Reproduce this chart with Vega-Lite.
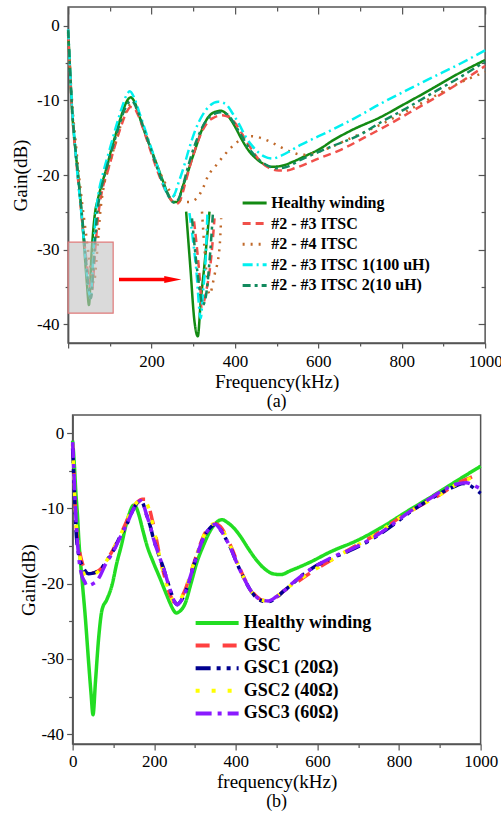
{
  "$schema": "https://vega.github.io/schema/vega-lite/v6.json",
  "background": "white",
  "padding": {"left": 10, "top": 5, "right": 0, "bottom": 5},
  "center": true,
  "spacing": 2,
  "resolve": {"scale": {"color": "independent", "strokeDash": "independent", "x": "independent", "y": "independent"}, "legend": {"color": "independent", "strokeDash": "independent"}},
  "config": {
    "view": {"stroke": "#555", "strokeWidth": 1.5},
    "axis": {"labelFont": "Liberation Serif", "titleFont": "Liberation Serif", "labelColor": "black", "titleColor": "black", "titleFontWeight": "normal", "labelFontSize": 17, "titleFontSize": 19, "domainColor": "#555", "tickColor": "#555", "domainWidth": 1.5, "tickWidth": 1.2, "grid": false},
    "legend": {"labelFont": "Liberation Serif"},
    "title": {"font": "Liberation Serif", "fontSize": 18, "fontWeight": "normal", "color": "black"}
  },
  "datasets": {
    "a": [
      {"s":"Healthy winding","p":"m","f":0,"g":-0.8},{"s":"Healthy winding","p":"m","f":3,"g":-4},{"s":"Healthy winding","p":"m","f":6,"g":-7.5},{"s":"Healthy winding","p":"m","f":9,"g":-11},{"s":"Healthy winding","p":"m","f":13,"g":-14},{"s":"Healthy winding","p":"m","f":18,"g":-17},{"s":"Healthy winding","p":"m","f":24,"g":-20},{"s":"Healthy winding","p":"m","f":32,"g":-24.9},{"s":"Healthy winding","p":"m","f":39,"g":-30},{"s":"Healthy winding","p":"m","f":45,"g":-34.5},{"s":"Healthy winding","p":"m","f":50,"g":-37.4},{"s":"Healthy winding","p":"m","f":56,"g":-30.7},{"s":"Healthy winding","p":"m","f":64,"g":-25.3},{"s":"Healthy winding","p":"m","f":72,"g":-23.1},{"s":"Healthy winding","p":"m","f":82,"g":-21},{"s":"Healthy winding","p":"m","f":92,"g":-19.1},{"s":"Healthy winding","p":"m","f":104,"g":-16.5},{"s":"Healthy winding","p":"m","f":116,"g":-14.2},{"s":"Healthy winding","p":"m","f":128,"g":-12},{"s":"Healthy winding","p":"m","f":140,"g":-10.2},{"s":"Healthy winding","p":"m","f":150,"g":-9.6},{"s":"Healthy winding","p":"m","f":160,"g":-10.3},{"s":"Healthy winding","p":"m","f":170,"g":-12},{"s":"Healthy winding","p":"m","f":180,"g":-13.7},{"s":"Healthy winding","p":"m","f":192,"g":-15.5},{"s":"Healthy winding","p":"m","f":204,"g":-17.3},{"s":"Healthy winding","p":"m","f":216,"g":-19.1},{"s":"Healthy winding","p":"m","f":228,"g":-20.9},{"s":"Healthy winding","p":"m","f":240,"g":-22.6},{"s":"Healthy winding","p":"m","f":252,"g":-23.6},{"s":"Healthy winding","p":"m","f":262,"g":-23.6},{"s":"Healthy winding","p":"m","f":275,"g":-21.5},{"s":"Healthy winding","p":"m","f":285,"g":-20},{"s":"Healthy winding","p":"m","f":295,"g":-18.2},{"s":"Healthy winding","p":"m","f":307,"g":-16.2},{"s":"Healthy winding","p":"m","f":319,"g":-14.2},{"s":"Healthy winding","p":"m","f":333,"g":-12.5},{"s":"Healthy winding","p":"m","f":350,"g":-11.6},{"s":"Healthy winding","p":"m","f":367,"g":-11.4},{"s":"Healthy winding","p":"m","f":385,"g":-12.2},{"s":"Healthy winding","p":"m","f":400,"g":-13.5},{"s":"Healthy winding","p":"m","f":415,"g":-15.1},{"s":"Healthy winding","p":"m","f":430,"g":-16.5},{"s":"Healthy winding","p":"m","f":447,"g":-17.6},{"s":"Healthy winding","p":"m","f":465,"g":-18.4},{"s":"Healthy winding","p":"m","f":487,"g":-18.9},{"s":"Healthy winding","p":"m","f":510,"g":-18.8},{"s":"Healthy winding","p":"m","f":540,"g":-18.2},{"s":"Healthy winding","p":"m","f":567,"g":-17.5},{"s":"Healthy winding","p":"m","f":607,"g":-16.4},{"s":"Healthy winding","p":"m","f":631,"g":-15.5},{"s":"Healthy winding","p":"m","f":680,"g":-14},{"s":"Healthy winding","p":"m","f":751,"g":-12.2},{"s":"Healthy winding","p":"m","f":800,"g":-10.7},{"s":"Healthy winding","p":"m","f":871,"g":-8.5},{"s":"Healthy winding","p":"m","f":930,"g":-6.6},{"s":"Healthy winding","p":"m","f":1000,"g":-4.6},

      {"s":"#2 - #3 ITSC","p":"m","f":0,"g":-1},{"s":"#2 - #3 ITSC","p":"m","f":3,"g":-4.5},{"s":"#2 - #3 ITSC","p":"m","f":6,"g":-8},{"s":"#2 - #3 ITSC","p":"m","f":10,"g":-12},{"s":"#2 - #3 ITSC","p":"m","f":15,"g":-15.5},{"s":"#2 - #3 ITSC","p":"m","f":21,"g":-19},{"s":"#2 - #3 ITSC","p":"m","f":28,"g":-23},{"s":"#2 - #3 ITSC","p":"m","f":36,"g":-27.5},{"s":"#2 - #3 ITSC","p":"m","f":44,"g":-31.5},{"s":"#2 - #3 ITSC","p":"m","f":51,"g":-34.5},{"s":"#2 - #3 ITSC","p":"m","f":57,"g":-35.5},{"s":"#2 - #3 ITSC","p":"m","f":62,"g":-32.5},{"s":"#2 - #3 ITSC","p":"m","f":67,"g":-28.5},{"s":"#2 - #3 ITSC","p":"m","f":72,"g":-25.5},{"s":"#2 - #3 ITSC","p":"m","f":80,"g":-22.5},{"s":"#2 - #3 ITSC","p":"m","f":95,"g":-19.5},{"s":"#2 - #3 ITSC","p":"m","f":110,"g":-16.5},{"s":"#2 - #3 ITSC","p":"m","f":125,"g":-13.8},{"s":"#2 - #3 ITSC","p":"m","f":140,"g":-11.6},{"s":"#2 - #3 ITSC","p":"m","f":150,"g":-10.9},{"s":"#2 - #3 ITSC","p":"m","f":158,"g":-11},{"s":"#2 - #3 ITSC","p":"m","f":168,"g":-12},{"s":"#2 - #3 ITSC","p":"m","f":180,"g":-13.8},{"s":"#2 - #3 ITSC","p":"m","f":195,"g":-16.3},{"s":"#2 - #3 ITSC","p":"m","f":210,"g":-18.8},{"s":"#2 - #3 ITSC","p":"m","f":225,"g":-21},{"s":"#2 - #3 ITSC","p":"m","f":240,"g":-22.8},{"s":"#2 - #3 ITSC","p":"m","f":252,"g":-23.6},{"s":"#2 - #3 ITSC","p":"m","f":262,"g":-23.8},{"s":"#2 - #3 ITSC","p":"m","f":270,"g":-23.2},{"s":"#2 - #3 ITSC","p":"m","f":280,"g":-21.3},{"s":"#2 - #3 ITSC","p":"m","f":292,"g":-18.8},{"s":"#2 - #3 ITSC","p":"m","f":305,"g":-16.5},{"s":"#2 - #3 ITSC","p":"m","f":320,"g":-14.3},{"s":"#2 - #3 ITSC","p":"m","f":335,"g":-12.9},{"s":"#2 - #3 ITSC","p":"m","f":350,"g":-12.3},{"s":"#2 - #3 ITSC","p":"m","f":368,"g":-12},{"s":"#2 - #3 ITSC","p":"m","f":385,"g":-12.2},{"s":"#2 - #3 ITSC","p":"m","f":400,"g":-13},{"s":"#2 - #3 ITSC","p":"m","f":415,"g":-14.3},{"s":"#2 - #3 ITSC","p":"m","f":430,"g":-15.7},{"s":"#2 - #3 ITSC","p":"m","f":445,"g":-17},{"s":"#2 - #3 ITSC","p":"m","f":460,"g":-18.1},{"s":"#2 - #3 ITSC","p":"m","f":480,"g":-19},{"s":"#2 - #3 ITSC","p":"m","f":505,"g":-19.4},{"s":"#2 - #3 ITSC","p":"m","f":525,"g":-19.4},{"s":"#2 - #3 ITSC","p":"m","f":543,"g":-19.1},{"s":"#2 - #3 ITSC","p":"m","f":600,"g":-17.8},{"s":"#2 - #3 ITSC","p":"m","f":655,"g":-16.6},{"s":"#2 - #3 ITSC","p":"m","f":710,"g":-15},{"s":"#2 - #3 ITSC","p":"m","f":767,"g":-13.3},{"s":"#2 - #3 ITSC","p":"m","f":820,"g":-11.6},{"s":"#2 - #3 ITSC","p":"m","f":879,"g":-9.7},{"s":"#2 - #3 ITSC","p":"m","f":940,"g":-7.6},{"s":"#2 - #3 ITSC","p":"m","f":1000,"g":-5.4},

      {"s":"#2 - #4 ITSC","p":"m","f":0,"g":-1.2},{"s":"#2 - #4 ITSC","p":"m","f":3,"g":-4},{"s":"#2 - #4 ITSC","p":"m","f":7,"g":-8},{"s":"#2 - #4 ITSC","p":"m","f":12,"g":-12},{"s":"#2 - #4 ITSC","p":"m","f":18,"g":-15.5},{"s":"#2 - #4 ITSC","p":"m","f":25,"g":-19.5},{"s":"#2 - #4 ITSC","p":"m","f":33,"g":-23.5},{"s":"#2 - #4 ITSC","p":"m","f":42,"g":-27.5},{"s":"#2 - #4 ITSC","p":"m","f":50,"g":-31},{"s":"#2 - #4 ITSC","p":"m","f":57,"g":-33.5},{"s":"#2 - #4 ITSC","p":"m","f":62,"g":-34.5},{"s":"#2 - #4 ITSC","p":"m","f":67,"g":-32},{"s":"#2 - #4 ITSC","p":"m","f":72,"g":-28.5},{"s":"#2 - #4 ITSC","p":"m","f":77,"g":-25},{"s":"#2 - #4 ITSC","p":"m","f":84,"g":-22},{"s":"#2 - #4 ITSC","p":"m","f":97,"g":-19},{"s":"#2 - #4 ITSC","p":"m","f":112,"g":-16},{"s":"#2 - #4 ITSC","p":"m","f":127,"g":-13.2},{"s":"#2 - #4 ITSC","p":"m","f":140,"g":-11.3},{"s":"#2 - #4 ITSC","p":"m","f":150,"g":-10.6},{"s":"#2 - #4 ITSC","p":"m","f":160,"g":-10.8},{"s":"#2 - #4 ITSC","p":"m","f":172,"g":-12.2},{"s":"#2 - #4 ITSC","p":"m","f":185,"g":-14.3},{"s":"#2 - #4 ITSC","p":"m","f":200,"g":-16.7},{"s":"#2 - #4 ITSC","p":"m","f":215,"g":-19},{"s":"#2 - #4 ITSC","p":"m","f":230,"g":-20.8},{"s":"#2 - #4 ITSC","p":"m","f":245,"g":-22.2},{"s":"#2 - #4 ITSC","p":"m","f":260,"g":-23},{"s":"#2 - #4 ITSC","p":"m","f":275,"g":-23.6},{"s":"#2 - #4 ITSC","p":"m","f":290,"g":-23.6},{"s":"#2 - #4 ITSC","p":"m","f":307,"g":-23.2},{"s":"#2 - #4 ITSC","p":"m","f":323,"g":-21.8},{"s":"#2 - #4 ITSC","p":"m","f":335,"g":-20.2},{"s":"#2 - #4 ITSC","p":"m","f":355,"g":-18.7},{"s":"#2 - #4 ITSC","p":"m","f":375,"g":-17.3},{"s":"#2 - #4 ITSC","p":"m","f":395,"g":-16.1},{"s":"#2 - #4 ITSC","p":"m","f":415,"g":-15.2},{"s":"#2 - #4 ITSC","p":"m","f":440,"g":-14.8},{"s":"#2 - #4 ITSC","p":"m","f":460,"g":-15},{"s":"#2 - #4 ITSC","p":"m","f":479,"g":-15.4},{"s":"#2 - #4 ITSC","p":"m","f":511,"g":-16.3},{"s":"#2 - #4 ITSC","p":"m","f":539,"g":-17},{"s":"#2 - #4 ITSC","p":"m","f":560,"g":-17.3},{"s":"#2 - #4 ITSC","p":"m","f":580,"g":-17.2},{"s":"#2 - #4 ITSC","p":"m","f":620,"g":-16.5},{"s":"#2 - #4 ITSC","p":"m","f":680,"g":-15},{"s":"#2 - #4 ITSC","p":"m","f":740,"g":-13.5},{"s":"#2 - #4 ITSC","p":"m","f":800,"g":-11.8},{"s":"#2 - #4 ITSC","p":"m","f":870,"g":-9.7},{"s":"#2 - #4 ITSC","p":"m","f":930,"g":-7.9},{"s":"#2 - #4 ITSC","p":"m","f":1000,"g":-6.2},

      {"s":"#2 - #3 ITSC 1(100 uH)","p":"m","f":0,"g":-0.5},{"s":"#2 - #3 ITSC 1(100 uH)","p":"m","f":3,"g":-4},{"s":"#2 - #3 ITSC 1(100 uH)","p":"m","f":6,"g":-7.5},{"s":"#2 - #3 ITSC 1(100 uH)","p":"m","f":10,"g":-11.5},{"s":"#2 - #3 ITSC 1(100 uH)","p":"m","f":15,"g":-15},{"s":"#2 - #3 ITSC 1(100 uH)","p":"m","f":20,"g":-18.5},{"s":"#2 - #3 ITSC 1(100 uH)","p":"m","f":27,"g":-22.5},{"s":"#2 - #3 ITSC 1(100 uH)","p":"m","f":35,"g":-27},{"s":"#2 - #3 ITSC 1(100 uH)","p":"m","f":42,"g":-31.5},{"s":"#2 - #3 ITSC 1(100 uH)","p":"m","f":48,"g":-35},{"s":"#2 - #3 ITSC 1(100 uH)","p":"m","f":54,"g":-36.5},{"s":"#2 - #3 ITSC 1(100 uH)","p":"m","f":58,"g":-33.5},{"s":"#2 - #3 ITSC 1(100 uH)","p":"m","f":62,"g":-29},{"s":"#2 - #3 ITSC 1(100 uH)","p":"m","f":66,"g":-25.5},{"s":"#2 - #3 ITSC 1(100 uH)","p":"m","f":72,"g":-22.8},{"s":"#2 - #3 ITSC 1(100 uH)","p":"m","f":85,"g":-19.5},{"s":"#2 - #3 ITSC 1(100 uH)","p":"m","f":100,"g":-16.5},{"s":"#2 - #3 ITSC 1(100 uH)","p":"m","f":115,"g":-13.5},{"s":"#2 - #3 ITSC 1(100 uH)","p":"m","f":130,"g":-10.8},{"s":"#2 - #3 ITSC 1(100 uH)","p":"m","f":140,"g":-9.3},{"s":"#2 - #3 ITSC 1(100 uH)","p":"m","f":148,"g":-8.8},{"s":"#2 - #3 ITSC 1(100 uH)","p":"m","f":158,"g":-9.6},{"s":"#2 - #3 ITSC 1(100 uH)","p":"m","f":170,"g":-11.5},{"s":"#2 - #3 ITSC 1(100 uH)","p":"m","f":185,"g":-14},{"s":"#2 - #3 ITSC 1(100 uH)","p":"m","f":200,"g":-16.5},{"s":"#2 - #3 ITSC 1(100 uH)","p":"m","f":215,"g":-19},{"s":"#2 - #3 ITSC 1(100 uH)","p":"m","f":228,"g":-21.2},{"s":"#2 - #3 ITSC 1(100 uH)","p":"m","f":238,"g":-22.6},{"s":"#2 - #3 ITSC 1(100 uH)","p":"m","f":246,"g":-23.1},{"s":"#2 - #3 ITSC 1(100 uH)","p":"m","f":255,"g":-22.6},{"s":"#2 - #3 ITSC 1(100 uH)","p":"m","f":265,"g":-21},{"s":"#2 - #3 ITSC 1(100 uH)","p":"m","f":278,"g":-18.8},{"s":"#2 - #3 ITSC 1(100 uH)","p":"m","f":290,"g":-16.5},{"s":"#2 - #3 ITSC 1(100 uH)","p":"m","f":305,"g":-14},{"s":"#2 - #3 ITSC 1(100 uH)","p":"m","f":320,"g":-12.2},{"s":"#2 - #3 ITSC 1(100 uH)","p":"m","f":340,"g":-10.7},{"s":"#2 - #3 ITSC 1(100 uH)","p":"m","f":360,"g":-10.2},{"s":"#2 - #3 ITSC 1(100 uH)","p":"m","f":378,"g":-10.5},{"s":"#2 - #3 ITSC 1(100 uH)","p":"m","f":395,"g":-11.8},{"s":"#2 - #3 ITSC 1(100 uH)","p":"m","f":410,"g":-13.2},{"s":"#2 - #3 ITSC 1(100 uH)","p":"m","f":425,"g":-14.8},{"s":"#2 - #3 ITSC 1(100 uH)","p":"m","f":440,"g":-16},{"s":"#2 - #3 ITSC 1(100 uH)","p":"m","f":455,"g":-16.9},{"s":"#2 - #3 ITSC 1(100 uH)","p":"m","f":470,"g":-17.5},{"s":"#2 - #3 ITSC 1(100 uH)","p":"m","f":490,"g":-17.8},{"s":"#2 - #3 ITSC 1(100 uH)","p":"m","f":511,"g":-17.4},{"s":"#2 - #3 ITSC 1(100 uH)","p":"m","f":560,"g":-15.9},{"s":"#2 - #3 ITSC 1(100 uH)","p":"m","f":631,"g":-14},{"s":"#2 - #3 ITSC 1(100 uH)","p":"m","f":700,"g":-12},{"s":"#2 - #3 ITSC 1(100 uH)","p":"m","f":751,"g":-10.4},{"s":"#2 - #3 ITSC 1(100 uH)","p":"m","f":810,"g":-8.7},{"s":"#2 - #3 ITSC 1(100 uH)","p":"m","f":871,"g":-7},{"s":"#2 - #3 ITSC 1(100 uH)","p":"m","f":940,"g":-5.1},{"s":"#2 - #3 ITSC 1(100 uH)","p":"m","f":1000,"g":-3.3},

      {"s":"#2 - #3 ITSC 2(10 uH)","p":"m","f":0,"g":-0.6},{"s":"#2 - #3 ITSC 2(10 uH)","p":"m","f":3,"g":-4},{"s":"#2 - #3 ITSC 2(10 uH)","p":"m","f":6,"g":-7.5},{"s":"#2 - #3 ITSC 2(10 uH)","p":"m","f":10,"g":-11.5},{"s":"#2 - #3 ITSC 2(10 uH)","p":"m","f":15,"g":-15},{"s":"#2 - #3 ITSC 2(10 uH)","p":"m","f":21,"g":-18.5},{"s":"#2 - #3 ITSC 2(10 uH)","p":"m","f":28,"g":-22.5},{"s":"#2 - #3 ITSC 2(10 uH)","p":"m","f":36,"g":-27},{"s":"#2 - #3 ITSC 2(10 uH)","p":"m","f":43,"g":-31.5},{"s":"#2 - #3 ITSC 2(10 uH)","p":"m","f":49,"g":-35},{"s":"#2 - #3 ITSC 2(10 uH)","p":"m","f":55,"g":-36.5},{"s":"#2 - #3 ITSC 2(10 uH)","p":"m","f":60,"g":-33},{"s":"#2 - #3 ITSC 2(10 uH)","p":"m","f":65,"g":-28.5},{"s":"#2 - #3 ITSC 2(10 uH)","p":"m","f":70,"g":-25},{"s":"#2 - #3 ITSC 2(10 uH)","p":"m","f":77,"g":-22.5},{"s":"#2 - #3 ITSC 2(10 uH)","p":"m","f":90,"g":-19.5},{"s":"#2 - #3 ITSC 2(10 uH)","p":"m","f":105,"g":-16.6},{"s":"#2 - #3 ITSC 2(10 uH)","p":"m","f":120,"g":-13.8},{"s":"#2 - #3 ITSC 2(10 uH)","p":"m","f":135,"g":-11.3},{"s":"#2 - #3 ITSC 2(10 uH)","p":"m","f":145,"g":-10.3},{"s":"#2 - #3 ITSC 2(10 uH)","p":"m","f":153,"g":-10.1},{"s":"#2 - #3 ITSC 2(10 uH)","p":"m","f":162,"g":-10.8},{"s":"#2 - #3 ITSC 2(10 uH)","p":"m","f":173,"g":-12.4},{"s":"#2 - #3 ITSC 2(10 uH)","p":"m","f":187,"g":-14.7},{"s":"#2 - #3 ITSC 2(10 uH)","p":"m","f":200,"g":-16.8},{"s":"#2 - #3 ITSC 2(10 uH)","p":"m","f":215,"g":-19.3},{"s":"#2 - #3 ITSC 2(10 uH)","p":"m","f":230,"g":-21.5},{"s":"#2 - #3 ITSC 2(10 uH)","p":"m","f":243,"g":-23},{"s":"#2 - #3 ITSC 2(10 uH)","p":"m","f":255,"g":-23.7},{"s":"#2 - #3 ITSC 2(10 uH)","p":"m","f":265,"g":-23.2},{"s":"#2 - #3 ITSC 2(10 uH)","p":"m","f":275,"g":-21.5},{"s":"#2 - #3 ITSC 2(10 uH)","p":"m","f":287,"g":-19},{"s":"#2 - #3 ITSC 2(10 uH)","p":"m","f":300,"g":-16.6},{"s":"#2 - #3 ITSC 2(10 uH)","p":"m","f":315,"g":-14.4},{"s":"#2 - #3 ITSC 2(10 uH)","p":"m","f":330,"g":-12.8},{"s":"#2 - #3 ITSC 2(10 uH)","p":"m","f":348,"g":-11.9},{"s":"#2 - #3 ITSC 2(10 uH)","p":"m","f":365,"g":-11.6},{"s":"#2 - #3 ITSC 2(10 uH)","p":"m","f":380,"g":-11.8},{"s":"#2 - #3 ITSC 2(10 uH)","p":"m","f":395,"g":-12.8},{"s":"#2 - #3 ITSC 2(10 uH)","p":"m","f":410,"g":-14.2},{"s":"#2 - #3 ITSC 2(10 uH)","p":"m","f":425,"g":-15.6},{"s":"#2 - #3 ITSC 2(10 uH)","p":"m","f":440,"g":-16.9},{"s":"#2 - #3 ITSC 2(10 uH)","p":"m","f":457,"g":-17.9},{"s":"#2 - #3 ITSC 2(10 uH)","p":"m","f":477,"g":-18.7},{"s":"#2 - #3 ITSC 2(10 uH)","p":"m","f":500,"g":-19.1},{"s":"#2 - #3 ITSC 2(10 uH)","p":"m","f":519,"g":-19},{"s":"#2 - #3 ITSC 2(10 uH)","p":"m","f":560,"g":-17.9},{"s":"#2 - #3 ITSC 2(10 uH)","p":"m","f":631,"g":-16.2},{"s":"#2 - #3 ITSC 2(10 uH)","p":"m","f":700,"g":-14.6},{"s":"#2 - #3 ITSC 2(10 uH)","p":"m","f":751,"g":-12.9},{"s":"#2 - #3 ITSC 2(10 uH)","p":"m","f":810,"g":-11.1},{"s":"#2 - #3 ITSC 2(10 uH)","p":"m","f":871,"g":-9.1},{"s":"#2 - #3 ITSC 2(10 uH)","p":"m","f":940,"g":-6.9},{"s":"#2 - #3 ITSC 2(10 uH)","p":"m","f":1000,"g":-4.8},

      {"s":"Healthy winding","p":"i","f":283,"g":-24.9},{"s":"Healthy winding","p":"i","f":293,"g":-32.3},{"s":"Healthy winding","p":"i","f":303,"g":-39.6},{"s":"Healthy winding","p":"i","f":311,"g":-41.6},{"s":"Healthy winding","p":"i","f":318,"g":-36.9},{"s":"Healthy winding","p":"i","f":327,"g":-32},{"s":"Healthy winding","p":"i","f":339,"g":-24.9},
      {"s":"#2 - #3 ITSC","p":"i","f":302,"g":-26.2},{"s":"#2 - #3 ITSC","p":"i","f":315,"g":-33.4},{"s":"#2 - #3 ITSC","p":"i","f":321,"g":-37.6},{"s":"#2 - #3 ITSC","p":"i","f":331,"g":-35.6},{"s":"#2 - #3 ITSC","p":"i","f":343,"g":-31.1},{"s":"#2 - #3 ITSC","p":"i","f":351,"g":-25.8},
      {"s":"#2 - #4 ITSC","p":"i","f":321,"g":-24.9},{"s":"#2 - #4 ITSC","p":"i","f":327,"g":-29.8},{"s":"#2 - #4 ITSC","p":"i","f":339,"g":-36},{"s":"#2 - #4 ITSC","p":"i","f":351,"g":-33.4},{"s":"#2 - #4 ITSC","p":"i","f":363,"g":-29.8},{"s":"#2 - #4 ITSC","p":"i","f":367,"g":-25.8},
      {"s":"#2 - #3 ITSC 1(100 uH)","p":"i","f":291,"g":-25.1},{"s":"#2 - #3 ITSC 1(100 uH)","p":"i","f":307,"g":-32.5},{"s":"#2 - #3 ITSC 1(100 uH)","p":"i","f":318,"g":-39.2},{"s":"#2 - #3 ITSC 1(100 uH)","p":"i","f":323,"g":-36},{"s":"#2 - #3 ITSC 1(100 uH)","p":"i","f":331,"g":-29.8},{"s":"#2 - #3 ITSC 1(100 uH)","p":"i","f":334,"g":-25.1},
      {"s":"#2 - #3 ITSC 2(10 uH)","p":"i","f":297,"g":-25.8},{"s":"#2 - #3 ITSC 2(10 uH)","p":"i","f":311,"g":-33.4},{"s":"#2 - #3 ITSC 2(10 uH)","p":"i","f":323,"g":-37.4},{"s":"#2 - #3 ITSC 2(10 uH)","p":"i","f":331,"g":-36},{"s":"#2 - #3 ITSC 2(10 uH)","p":"i","f":339,"g":-31.6},{"s":"#2 - #3 ITSC 2(10 uH)","p":"i","f":347,"g":-25.3}
    ],
    "b": [
      {"s":"Healthy winding","f":0,"g":-1},{"s":"Healthy winding","f":4,"g":-4},{"s":"Healthy winding","f":8,"g":-8},{"s":"Healthy winding","f":12,"g":-11},{"s":"Healthy winding","f":15,"g":-14},{"s":"Healthy winding","f":23,"g":-19.4},{"s":"Healthy winding","f":31,"g":-24.4},{"s":"Healthy winding","f":39,"g":-30.3},{"s":"Healthy winding","f":45,"g":-34.5},{"s":"Healthy winding","f":50,"g":-37.4},{"s":"Healthy winding","f":56,"g":-33},{"s":"Healthy winding","f":64,"g":-27.1},{"s":"Healthy winding","f":72,"g":-23.5},{"s":"Healthy winding","f":84,"g":-22.1},{"s":"Healthy winding","f":96,"g":-20.3},{"s":"Healthy winding","f":109,"g":-17.1},{"s":"Healthy winding","f":120,"g":-14.8},{"s":"Healthy winding","f":129,"g":-12.6},{"s":"Healthy winding","f":139,"g":-10.7},{"s":"Healthy winding","f":149,"g":-9.6},{"s":"Healthy winding","f":155,"g":-9.8},{"s":"Healthy winding","f":162,"g":-10.8},{"s":"Healthy winding","f":172,"g":-12.9},{"s":"Healthy winding","f":182,"g":-14.9},{"s":"Healthy winding","f":198,"g":-17.2},{"s":"Healthy winding","f":215,"g":-19.4},{"s":"Healthy winding","f":229,"g":-21.3},{"s":"Healthy winding","f":239,"g":-22.6},{"s":"Healthy winding","f":247,"g":-23.5},{"s":"Healthy winding","f":254,"g":-23.9},{"s":"Healthy winding","f":262,"g":-23.7},{"s":"Healthy winding","f":276,"g":-22.6},{"s":"Healthy winding","f":290,"g":-20},{"s":"Healthy winding","f":305,"g":-17.1},{"s":"Healthy winding","f":320,"g":-15},{"s":"Healthy winding","f":337,"g":-13},{"s":"Healthy winding","f":350,"g":-12},{"s":"Healthy winding","f":366,"g":-11.5},{"s":"Healthy winding","f":380,"g":-11.9},{"s":"Healthy winding","f":395,"g":-12.6},{"s":"Healthy winding","f":411,"g":-13.7},{"s":"Healthy winding","f":430,"g":-15.3},{"s":"Healthy winding","f":451,"g":-16.9},{"s":"Healthy winding","f":470,"g":-18},{"s":"Healthy winding","f":492,"g":-18.7},{"s":"Healthy winding","f":510,"g":-18.8},{"s":"Healthy winding","f":533,"g":-18.3},{"s":"Healthy winding","f":580,"g":-17.2},{"s":"Healthy winding","f":631,"g":-15.8},{"s":"Healthy winding","f":700,"g":-14.2},{"s":"Healthy winding","f":761,"g":-12.4},{"s":"Healthy winding","f":820,"g":-10.4},{"s":"Healthy winding","f":884,"g":-8.3},{"s":"Healthy winding","f":940,"g":-6.4},{"s":"Healthy winding","f":1000,"g":-4.4},

      {"s":"GSC","f":0,"g":-1.5},{"s":"GSC","f":3,"g":-5},{"s":"GSC","f":6,"g":-9},{"s":"GSC","f":9,"g":-12.5},{"s":"GSC","f":13,"g":-14.5},{"s":"GSC","f":18,"g":-16},{"s":"GSC","f":25,"g":-17.5},{"s":"GSC","f":32,"g":-18.3},{"s":"GSC","f":40,"g":-18.6},{"s":"GSC","f":50,"g":-18.6},{"s":"GSC","f":60,"g":-18.4},{"s":"GSC","f":70,"g":-18},{"s":"GSC","f":85,"g":-16.8},{"s":"GSC","f":100,"g":-15.4},{"s":"GSC","f":115,"g":-13.8},{"s":"GSC","f":130,"g":-12},{"s":"GSC","f":145,"g":-10.2},{"s":"GSC","f":160,"g":-9.1},{"s":"GSC","f":170,"g":-8.8},{"s":"GSC","f":178,"g":-8.8},{"s":"GSC","f":186,"g":-9.6},{"s":"GSC","f":195,"g":-11.5},{"s":"GSC","f":205,"g":-14},{"s":"GSC","f":215,"g":-16.8},{"s":"GSC","f":225,"g":-19},{"s":"GSC","f":235,"g":-20.9},{"s":"GSC","f":245,"g":-22.2},{"s":"GSC","f":255,"g":-22.7},{"s":"GSC","f":265,"g":-22},{"s":"GSC","f":276,"g":-20.8},{"s":"GSC","f":290,"g":-18.5},{"s":"GSC","f":305,"g":-16},{"s":"GSC","f":320,"g":-13.8},{"s":"GSC","f":335,"g":-12.4},{"s":"GSC","f":349,"g":-12},{"s":"GSC","f":362,"g":-12.4},{"s":"GSC","f":375,"g":-13.5},{"s":"GSC","f":390,"g":-15.3},{"s":"GSC","f":405,"g":-17.3},{"s":"GSC","f":420,"g":-19.2},{"s":"GSC","f":435,"g":-20.7},{"s":"GSC","f":451,"g":-21.7},{"s":"GSC","f":465,"g":-22.2},{"s":"GSC","f":480,"g":-22.3},{"s":"GSC","f":500,"g":-21.8},{"s":"GSC","f":517,"g":-21},{"s":"GSC","f":550,"g":-19.8},{"s":"GSC","f":582,"g":-18.6},{"s":"GSC","f":630,"g":-17},{"s":"GSC","f":680,"g":-15.4},{"s":"GSC","f":745,"g":-13.4},{"s":"GSC","f":800,"g":-11.3},{"s":"GSC","f":850,"g":-9.7},{"s":"GSC","f":900,"g":-8.2},{"s":"GSC","f":949,"g":-6.5},{"s":"GSC","f":975,"g":-5.9},{"s":"GSC","f":1000,"g":-5.3},

      {"s":"GSC1 (20Ω)","f":0,"g":-2},{"s":"GSC1 (20Ω)","f":3,"g":-6},{"s":"GSC1 (20Ω)","f":6,"g":-10},{"s":"GSC1 (20Ω)","f":9,"g":-13.5},{"s":"GSC1 (20Ω)","f":13,"g":-15.5},{"s":"GSC1 (20Ω)","f":18,"g":-16.8},{"s":"GSC1 (20Ω)","f":25,"g":-17.8},{"s":"GSC1 (20Ω)","f":32,"g":-18.4},{"s":"GSC1 (20Ω)","f":39,"g":-18.7},{"s":"GSC1 (20Ω)","f":50,"g":-18.6},{"s":"GSC1 (20Ω)","f":60,"g":-18.4},{"s":"GSC1 (20Ω)","f":68,"g":-18.2},{"s":"GSC1 (20Ω)","f":80,"g":-17.2},{"s":"GSC1 (20Ω)","f":100,"g":-15.6},{"s":"GSC1 (20Ω)","f":115,"g":-13.9},{"s":"GSC1 (20Ω)","f":133,"g":-12.1},{"s":"GSC1 (20Ω)","f":150,"g":-10},{"s":"GSC1 (20Ω)","f":160,"g":-9.2},{"s":"GSC1 (20Ω)","f":166,"g":-9},{"s":"GSC1 (20Ω)","f":172,"g":-9.3},{"s":"GSC1 (20Ω)","f":182,"g":-11},{"s":"GSC1 (20Ω)","f":190,"g":-12.3},{"s":"GSC1 (20Ω)","f":198,"g":-14},{"s":"GSC1 (20Ω)","f":210,"g":-16},{"s":"GSC1 (20Ω)","f":223,"g":-18},{"s":"GSC1 (20Ω)","f":239,"g":-20.8},{"s":"GSC1 (20Ω)","f":249,"g":-22.3},{"s":"GSC1 (20Ω)","f":256,"g":-22.8},{"s":"GSC1 (20Ω)","f":264,"g":-22.4},{"s":"GSC1 (20Ω)","f":276,"g":-21.2},{"s":"GSC1 (20Ω)","f":290,"g":-18.8},{"s":"GSC1 (20Ω)","f":305,"g":-16.2},{"s":"GSC1 (20Ω)","f":320,"g":-14},{"s":"GSC1 (20Ω)","f":337,"g":-12.6},{"s":"GSC1 (20Ω)","f":349,"g":-12.1},{"s":"GSC1 (20Ω)","f":362,"g":-12.8},{"s":"GSC1 (20Ω)","f":375,"g":-14},{"s":"GSC1 (20Ω)","f":386,"g":-15.1},{"s":"GSC1 (20Ω)","f":402,"g":-17.2},{"s":"GSC1 (20Ω)","f":419,"g":-19.2},{"s":"GSC1 (20Ω)","f":435,"g":-20.8},{"s":"GSC1 (20Ω)","f":451,"g":-21.9},{"s":"GSC1 (20Ω)","f":465,"g":-22.3},{"s":"GSC1 (20Ω)","f":480,"g":-22.4},{"s":"GSC1 (20Ω)","f":500,"g":-21.8},{"s":"GSC1 (20Ω)","f":517,"g":-21},{"s":"GSC1 (20Ω)","f":533,"g":-20.3},{"s":"GSC1 (20Ω)","f":560,"g":-19},{"s":"GSC1 (20Ω)","f":598,"g":-17.6},{"s":"GSC1 (20Ω)","f":640,"g":-16.5},{"s":"GSC1 (20Ω)","f":680,"g":-15.6},{"s":"GSC1 (20Ω)","f":745,"g":-13.7},{"s":"GSC1 (20Ω)","f":790,"g":-12},{"s":"GSC1 (20Ω)","f":827,"g":-10.5},{"s":"GSC1 (20Ω)","f":870,"g":-9},{"s":"GSC1 (20Ω)","f":908,"g":-7.8},{"s":"GSC1 (20Ω)","f":940,"g":-7},{"s":"GSC1 (20Ω)","f":957,"g":-6.7},{"s":"GSC1 (20Ω)","f":975,"g":-7},{"s":"GSC1 (20Ω)","f":990,"g":-7.6},{"s":"GSC1 (20Ω)","f":1000,"g":-8},

      {"s":"GSC2 (40Ω)","f":0,"g":-1.5},{"s":"GSC2 (40Ω)","f":3,"g":-5.5},{"s":"GSC2 (40Ω)","f":6,"g":-9.5},{"s":"GSC2 (40Ω)","f":10,"g":-13},{"s":"GSC2 (40Ω)","f":15,"g":-15.5},{"s":"GSC2 (40Ω)","f":22,"g":-17.5},{"s":"GSC2 (40Ω)","f":31,"g":-19},{"s":"GSC2 (40Ω)","f":40,"g":-19},{"s":"GSC2 (40Ω)","f":50,"g":-18.8},{"s":"GSC2 (40Ω)","f":60,"g":-18.5},{"s":"GSC2 (40Ω)","f":70,"g":-18},{"s":"GSC2 (40Ω)","f":85,"g":-16.8},{"s":"GSC2 (40Ω)","f":100,"g":-15.4},{"s":"GSC2 (40Ω)","f":115,"g":-13.8},{"s":"GSC2 (40Ω)","f":130,"g":-12},{"s":"GSC2 (40Ω)","f":145,"g":-10.2},{"s":"GSC2 (40Ω)","f":160,"g":-9.1},{"s":"GSC2 (40Ω)","f":170,"g":-8.9},{"s":"GSC2 (40Ω)","f":177,"g":-9},{"s":"GSC2 (40Ω)","f":186,"g":-9.9},{"s":"GSC2 (40Ω)","f":195,"g":-11.8},{"s":"GSC2 (40Ω)","f":205,"g":-14.2},{"s":"GSC2 (40Ω)","f":215,"g":-16.9},{"s":"GSC2 (40Ω)","f":225,"g":-19},{"s":"GSC2 (40Ω)","f":235,"g":-20.9},{"s":"GSC2 (40Ω)","f":245,"g":-22.2},{"s":"GSC2 (40Ω)","f":255,"g":-22.7},{"s":"GSC2 (40Ω)","f":265,"g":-22},{"s":"GSC2 (40Ω)","f":276,"g":-20.8},{"s":"GSC2 (40Ω)","f":290,"g":-18.5},{"s":"GSC2 (40Ω)","f":305,"g":-16},{"s":"GSC2 (40Ω)","f":320,"g":-13.8},{"s":"GSC2 (40Ω)","f":335,"g":-12.4},{"s":"GSC2 (40Ω)","f":349,"g":-12},{"s":"GSC2 (40Ω)","f":362,"g":-12.5},{"s":"GSC2 (40Ω)","f":375,"g":-13.6},{"s":"GSC2 (40Ω)","f":390,"g":-15.4},{"s":"GSC2 (40Ω)","f":405,"g":-17.4},{"s":"GSC2 (40Ω)","f":420,"g":-19.3},{"s":"GSC2 (40Ω)","f":435,"g":-20.8},{"s":"GSC2 (40Ω)","f":451,"g":-21.8},{"s":"GSC2 (40Ω)","f":465,"g":-22.2},{"s":"GSC2 (40Ω)","f":480,"g":-22.3},{"s":"GSC2 (40Ω)","f":500,"g":-21.7},{"s":"GSC2 (40Ω)","f":517,"g":-20.9},{"s":"GSC2 (40Ω)","f":550,"g":-19.7},{"s":"GSC2 (40Ω)","f":582,"g":-18.5},{"s":"GSC2 (40Ω)","f":630,"g":-17},{"s":"GSC2 (40Ω)","f":680,"g":-15.4},{"s":"GSC2 (40Ω)","f":745,"g":-13.4},{"s":"GSC2 (40Ω)","f":800,"g":-11.3},{"s":"GSC2 (40Ω)","f":850,"g":-9.7},{"s":"GSC2 (40Ω)","f":900,"g":-8.2},{"s":"GSC2 (40Ω)","f":949,"g":-6.6},{"s":"GSC2 (40Ω)","f":975,"g":-6},{"s":"GSC2 (40Ω)","f":1000,"g":-5.5},

      {"s":"GSC3 (60Ω)","f":0,"g":-1.2},{"s":"GSC3 (60Ω)","f":3,"g":-5},{"s":"GSC3 (60Ω)","f":6,"g":-9},{"s":"GSC3 (60Ω)","f":10,"g":-13},{"s":"GSC3 (60Ω)","f":15,"g":-16.5},{"s":"GSC3 (60Ω)","f":22,"g":-18.8},{"s":"GSC3 (60Ω)","f":30,"g":-19.8},{"s":"GSC3 (60Ω)","f":35,"g":-20.3},{"s":"GSC3 (60Ω)","f":42,"g":-20.2},{"s":"GSC3 (60Ω)","f":50,"g":-20},{"s":"GSC3 (60Ω)","f":60,"g":-19.6},{"s":"GSC3 (60Ω)","f":68,"g":-18.9},{"s":"GSC3 (60Ω)","f":80,"g":-17.5},{"s":"GSC3 (60Ω)","f":100,"g":-15.7},{"s":"GSC3 (60Ω)","f":115,"g":-14},{"s":"GSC3 (60Ω)","f":133,"g":-12.1},{"s":"GSC3 (60Ω)","f":150,"g":-10},{"s":"GSC3 (60Ω)","f":160,"g":-9.2},{"s":"GSC3 (60Ω)","f":166,"g":-9},{"s":"GSC3 (60Ω)","f":172,"g":-9.3},{"s":"GSC3 (60Ω)","f":182,"g":-11},{"s":"GSC3 (60Ω)","f":190,"g":-12.3},{"s":"GSC3 (60Ω)","f":198,"g":-14},{"s":"GSC3 (60Ω)","f":210,"g":-16},{"s":"GSC3 (60Ω)","f":223,"g":-18},{"s":"GSC3 (60Ω)","f":239,"g":-20.8},{"s":"GSC3 (60Ω)","f":249,"g":-22.3},{"s":"GSC3 (60Ω)","f":256,"g":-22.8},{"s":"GSC3 (60Ω)","f":264,"g":-22.4},{"s":"GSC3 (60Ω)","f":276,"g":-21.2},{"s":"GSC3 (60Ω)","f":290,"g":-18.8},{"s":"GSC3 (60Ω)","f":305,"g":-16.2},{"s":"GSC3 (60Ω)","f":320,"g":-14},{"s":"GSC3 (60Ω)","f":337,"g":-12.6},{"s":"GSC3 (60Ω)","f":349,"g":-12.1},{"s":"GSC3 (60Ω)","f":362,"g":-12.8},{"s":"GSC3 (60Ω)","f":375,"g":-14},{"s":"GSC3 (60Ω)","f":386,"g":-15.1},{"s":"GSC3 (60Ω)","f":402,"g":-17.2},{"s":"GSC3 (60Ω)","f":419,"g":-19.2},{"s":"GSC3 (60Ω)","f":435,"g":-20.8},{"s":"GSC3 (60Ω)","f":451,"g":-21.8},{"s":"GSC3 (60Ω)","f":465,"g":-22.2},{"s":"GSC3 (60Ω)","f":480,"g":-22.3},{"s":"GSC3 (60Ω)","f":500,"g":-21.7},{"s":"GSC3 (60Ω)","f":517,"g":-21},{"s":"GSC3 (60Ω)","f":533,"g":-20.2},{"s":"GSC3 (60Ω)","f":560,"g":-19},{"s":"GSC3 (60Ω)","f":598,"g":-17.6},{"s":"GSC3 (60Ω)","f":640,"g":-16.4},{"s":"GSC3 (60Ω)","f":680,"g":-15.5},{"s":"GSC3 (60Ω)","f":745,"g":-13.6},{"s":"GSC3 (60Ω)","f":790,"g":-11.9},{"s":"GSC3 (60Ω)","f":827,"g":-10.4},{"s":"GSC3 (60Ω)","f":870,"g":-8.9},{"s":"GSC3 (60Ω)","f":908,"g":-7.6},{"s":"GSC3 (60Ω)","f":940,"g":-6.8},{"s":"GSC3 (60Ω)","f":965,"g":-6.6},{"s":"GSC3 (60Ω)","f":985,"g":-7},{"s":"GSC3 (60Ω)","f":1000,"g":-7.4}
    ]
  },
  "vconcat": [
    {
      "width": 417,
      "height": 336,
      "title": {"text": "(a)", "orient": "bottom", "anchor": "middle", "offset": 2},
      "resolve": {"axis": {"x": "independent", "y": "independent"}},
      "layer": [
        {
          "data": {"name": "a"},
          "mark": {"type": "line", "strokeWidth": 2.5, "interpolate": "monotone"},
          "encoding": {
            "x": {"field": "f", "type": "quantitative", "scale": {"domain": [0, 1000], "nice": false, "zero": false},
              "axis": {"orient": "bottom", "title": "Frequency(kHz)", "labelFont": "Liberation Serif", "titleFont": "Liberation Serif", "values": [0,100,200,300,400,500,600,700,800,900,1000], "labelExpr": "datum.value % 200 == 0 && datum.value > 0 ? '' + datum.value : ''", "tickSize": {"condition": {"test": "datum.value % 200 != 0", "value": 3}, "value": 5}, "labelPadding": 5, "titlePadding": 3, "labelFlush": false, "labelOverlap": false}},
            "y": {"field": "g", "type": "quantitative", "scale": {"domain": [-42.5, 2.5], "nice": false, "zero": false},
              "axis": {"orient": "left", "title": "Gain(dB)", "labelFont": "Liberation Serif", "titleFont": "Liberation Serif", "values": [-40,-35,-30,-25,-20,-15,-10,-5,0], "labelExpr": "datum.value % 10 == 0 ? (datum.value < 0 ? '-' + (-datum.value) : '' + datum.value) : ''", "tickSize": {"condition": {"test": "datum.value % 10 != 0", "value": 3}, "value": 5}, "labelPadding": 4, "titlePadding": 6, "labelOverlap": false}},
            "detail": {"field": "p"},
            "color": {"field": "s", "type": "nominal",
              "scale": {"domain": ["Healthy winding", "#2 - #3 ITSC", "#2 - #4 ITSC", "#2 - #3 ITSC 1(100 uH)", "#2 - #3 ITSC 2(10 uH)"], "range": ["#138a13", "#f0504a", "#c0692a", "#00f0f0", "#128a5e"]},
              "legend": {"orient": "none", "legendX": 173, "legendY": 187, "title": null, "padding": 0, "symbolType": "stroke", "symbolSize": 576, "symbolStrokeWidth": 3, "clipHeight": 18, "rowPadding": 2.6, "labelFont": "Liberation Serif", "labelFontWeight": "bold", "labelFontSize": 16, "labelColor": "black", "labelOffset": 3, "labelLimit": 0}},
            "strokeDash": {"field": "s", "type": "nominal",
              "scale": {"domain": ["Healthy winding", "#2 - #3 ITSC", "#2 - #4 ITSC", "#2 - #3 ITSC 1(100 uH)", "#2 - #3 ITSC 2(10 uH)"], "range": [[1, 0], [8, 5], [2, 6], [10, 4, 2, 4], [8, 4, 3, 4]]},
              "legend": {"orient": "none", "legendX": 173, "legendY": 187, "title": null, "padding": 0, "symbolType": "stroke", "symbolSize": 576, "symbolStrokeWidth": 3, "clipHeight": 18, "rowPadding": 2.6, "labelFont": "Liberation Serif", "labelFontWeight": "bold", "labelFontSize": 16, "labelColor": "black", "labelOffset": 3, "labelLimit": 0}}
          }
        },
        {
          "data": {"values": [{"f1": 0, "f2": 108, "g1": -38.5, "g2": -29}]},
          "mark": {"type": "rect", "fill": "#c4c4c4", "fillOpacity": 0.62, "stroke": "#e07a7a", "strokeWidth": 1.2},
          "encoding": {
            "x": {"field": "f1", "type": "quantitative", "scale": {"domain": [0, 1000], "nice": false, "zero": false},
              "axis": {"orient": "top", "title": null, "labels": false, "domain": false, "values": [0,100,200,300,400,500,600,700,800,900,1000], "tickSize": {"condition": {"test": "datum.value % 200 != 0", "value": -4}, "value": -7}}},
            "x2": {"field": "f2"},
            "y": {"field": "g1", "type": "quantitative", "scale": {"domain": [-42.5, 2.5], "nice": false, "zero": false},
              "axis": {"orient": "right", "title": null, "labels": false, "domain": false, "values": [-40,-35,-30,-25,-20,-15,-10,-5,0], "tickSize": {"condition": {"test": "datum.value % 10 != 0", "value": -4}, "value": -7}}},
            "y2": {"field": "g2"}
          }
        },
        {
          "data": {"values": [{"f1": 122, "f2": 240, "g": -34}]},
          "mark": {"type": "rule", "color": "#ff0000", "strokeWidth": 3.5},
          "encoding": {
            "x": {"field": "f1", "type": "quantitative", "axis": null},
            "x2": {"field": "f2"},
            "y": {"field": "g", "type": "quantitative", "axis": null}
          }
        },
        {
          "data": {"values": [{"f": 251, "g": -34}]},
          "mark": {"type": "point", "shape": "M-1,-0.42L1,0L-1,0.42Z", "filled": true, "color": "#ff0000", "opacity": 1, "size": 290},
          "encoding": {
            "x": {"field": "f", "type": "quantitative", "axis": null},
            "y": {"field": "g", "type": "quantitative", "axis": null}
          }
        }
      ]
    },
    {
      "width": 408,
      "height": 329,
      "title": {"text": "(b)", "orient": "bottom", "anchor": "middle", "offset": 2},
      "data": {"name": "b"},
      "mark": {"type": "line", "strokeWidth": 3.5, "interpolate": "monotone"},
      "encoding": {
        "x": {"field": "f", "type": "quantitative", "scale": {"domain": [0, 1000], "nice": false, "zero": false},
          "axis": {"title": "frequency(kHz)", "labelFont": "Liberation Serif", "titleFont": "Liberation Serif", "values": [0,100,200,300,400,500,600,700,800,900,1000], "labelExpr": "datum.value % 200 == 0 ? '' + datum.value : ''", "tickSize": {"condition": {"test": "datum.value % 200 != 0", "value": 3.5}, "value": 6}, "labelPadding": 3, "titlePadding": 3, "labelFlush": false, "labelOverlap": false}},
        "y": {"field": "g", "type": "quantitative", "scale": {"domain": [-41.3, 2.4], "nice": false, "zero": false},
          "axis": {"title": "Gain(dB)", "labelFont": "Liberation Serif", "titleFont": "Liberation Serif", "values": [-40,-35,-30,-25,-20,-15,-10,-5,0], "labelExpr": "datum.value % 10 == 0 ? (datum.value < 0 ? '-' + (-datum.value) : '' + datum.value) : ''", "tickSize": {"condition": {"test": "datum.value % 10 != 0", "value": 4}, "value": 6}, "labelPadding": 3, "titlePadding": 2, "labelOverlap": false}},
        "color": {"field": "s", "type": "nominal",
          "scale": {"domain": ["Healthy winding", "GSC", "GSC1 (20Ω)", "GSC2 (40Ω)", "GSC3 (60Ω)"], "range": ["#22dd22", "#ff4040", "#00008f", "#ffff00", "#8a1aff"]},
          "legend": {"orient": "none", "legendX": 121, "legendY": 198, "title": null, "padding": 0, "symbolType": "stroke", "symbolSize": 1849, "symbolStrokeWidth": 4, "clipHeight": 20, "rowPadding": 2.6, "labelFont": "Liberation Serif", "labelFontWeight": "bold", "labelFontSize": 18, "labelColor": "black", "labelOffset": 3, "labelLimit": 0}},
        "strokeDash": {"field": "s", "type": "nominal",
          "scale": {"domain": ["Healthy winding", "GSC", "GSC1 (20Ω)", "GSC2 (40Ω)", "GSC3 (60Ω)"], "range": [[1, 0], [14, 13], [15, 6, 4, 6, 4, 6], [4, 12], [16, 6, 4, 6]]},
          "legend": {"orient": "none", "legendX": 121, "legendY": 198, "title": null, "padding": 0, "symbolType": "stroke", "symbolSize": 1849, "symbolStrokeWidth": 4, "clipHeight": 20, "rowPadding": 2.6, "labelFont": "Liberation Serif", "labelFontWeight": "bold", "labelFontSize": 18, "labelColor": "black", "labelOffset": 3, "labelLimit": 0}}
      }
    }
  ]
}
